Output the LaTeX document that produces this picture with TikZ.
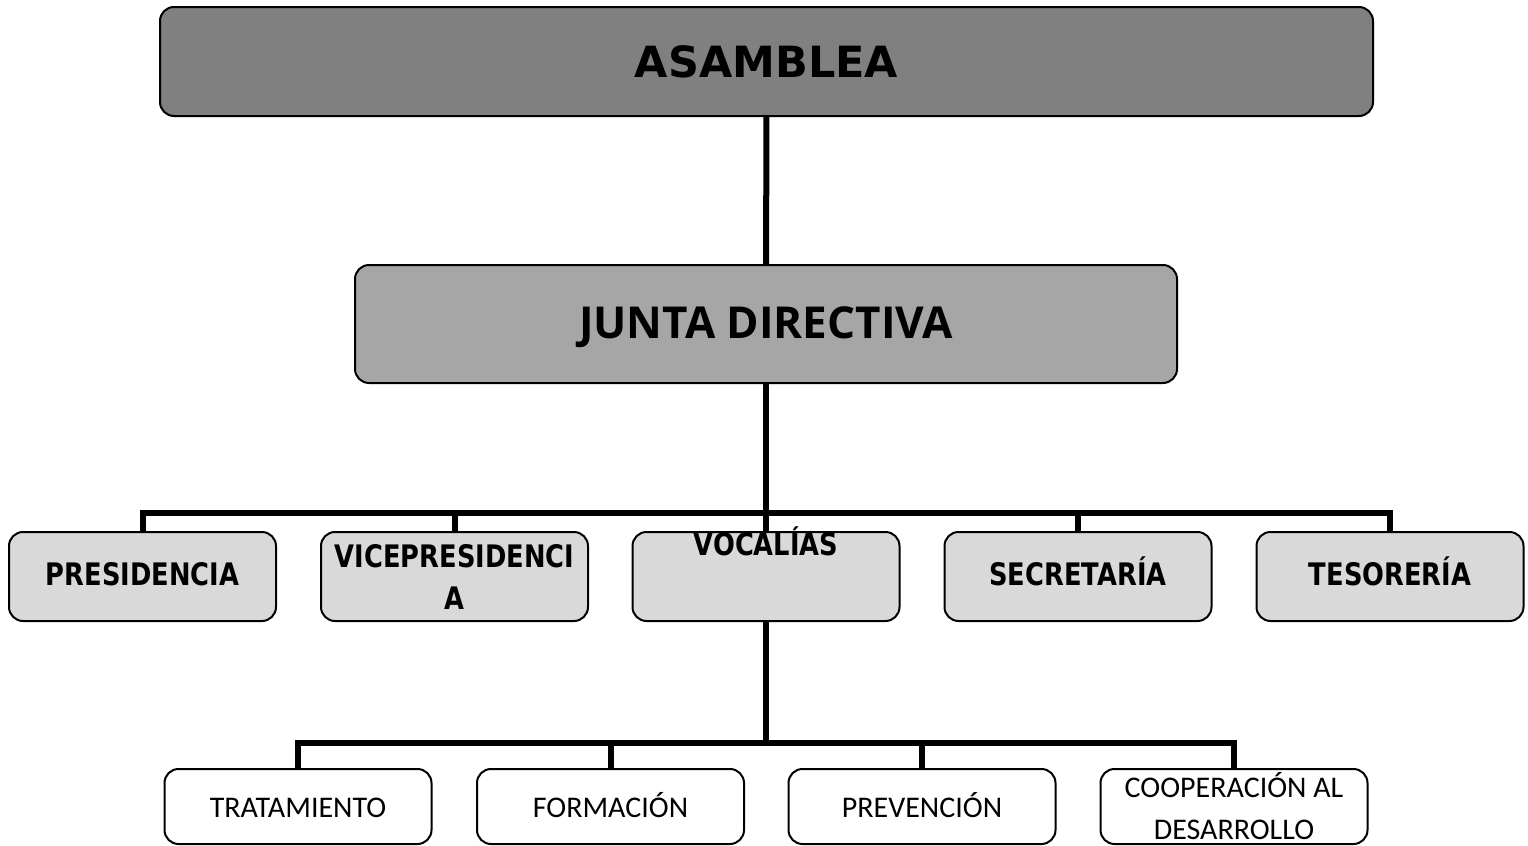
\documentclass[tikz,border=0pt]{standalone}
\usepackage{fontspec}
\setmainfont{DejaVu Sans}
\newfontfamily\asamfont{DejaVu Sans}
\newfontfamily\juntafont{Open Sans}
\newfontfamily\midfont{DejaVu Sans}[FakeStretch=0.83]
\newfontfamily\leaffont{Carlito}
\usetikzlibrary{positioning}
\definecolor{asamgray}{HTML}{808080}
\definecolor{juntagray}{HTML}{A6A6A6}
\definecolor{midgray}{HTML}{D9D9D9}

\begin{document}
\begin{tikzpicture}[x=0.5pt, y=-0.5pt,
    box/.style={draw, line width=1pt, rounded corners=7pt, inner sep=0pt, align=center},
    topbox/.style={box, fill=asamgray, minimum width=606.5pt, minimum height=54.5pt,
      text height=15.5pt, text depth=0pt,
      font=\asamfont\bfseries\fontsize{21.5}{26}\selectfont},
    juntabox/.style={box, fill=juntagray, minimum width=411pt, minimum height=59pt,
      text height=14pt, text depth=0pt,
      font=\juntafont\bfseries\fontsize{22}{26}\selectfont},
    midbox/.style={box, fill=midgray, minimum width=133.5pt, minimum height=44.5pt,
      font=\midfont\bfseries\fontsize{15.5}{21}\selectfont},
    leafbox/.style={box, fill=white, minimum width=133.5pt, minimum height=37.5pt,
      font=\leaffont\fontsize{15}{21}\selectfont},
    midline/.style={midbox, text height=8.5pt, text depth=0pt},
    leafline/.style={leafbox, text height=10.5pt, text depth=0pt},
    link/.style={line width=3pt}]
    \useasboundingbox (0,0) rectangle (1528,846);
    \node[topbox] (asam) at (766.5,61.5) {ASAMBLEA};
    \node[juntabox] (junta) at (766,324) {JUNTA DIRECTIVA};
    \node[midline] (pres) at (142.5,576.5) {PRESIDENCIA};
    \node[midbox] (vice) at (454.5,576.5) {VICEPRESIDENCI\\A};
    \node[midbox] (voca) at (766,576.5) {};
    \node[midline] (secr) at (1078,576.5) {SECRETARÍA};
    \node[midline] (teso) at (1390,576.5) {TESORERÍA};
    \node[leafline] (trat) at (298,806.5) {TRATAMIENTO};
    \node[leafline] (form) at (610.5,806.5) {FORMACIÓN};
    \node[leafline] (prev) at (922,806.5) {PREVENCIÓN};
    \node[leafbox] (coop) at (1234,806.5) {COOPERACIÓN AL\\DESARROLLO};
    \coordinate (bus1) at (766,513);
    \coordinate (bus2) at (766,743);
    \draw[link] (asam) -- (junta);
    \draw[link] (junta) -- (voca);
    \draw[link] (pres.north) |- (teso.north |- bus1) -- (teso.north);
    \draw[link] (vice.north) -- (vice.north |- bus1);
    \draw[link] (secr.north) -- (secr.north |- bus1);
    \draw[link] (voca) -- (voca.south |- bus2);
    \draw[link] (trat.north) |- (coop.north |- bus2) -- (coop.north);
    \draw[link] (form.north) -- (form.north |- bus2);
    \draw[link] (prev.north) -- (prev.north |- bus2);
    \node[anchor=north, inner sep=0pt, font=\midfont\bfseries\fontsize{15.5}{21}\selectfont]
      (vocatext) at ([yshift=2.5pt]voca.north) {VOCALÍAS};
\end{tikzpicture}
\end{document}
